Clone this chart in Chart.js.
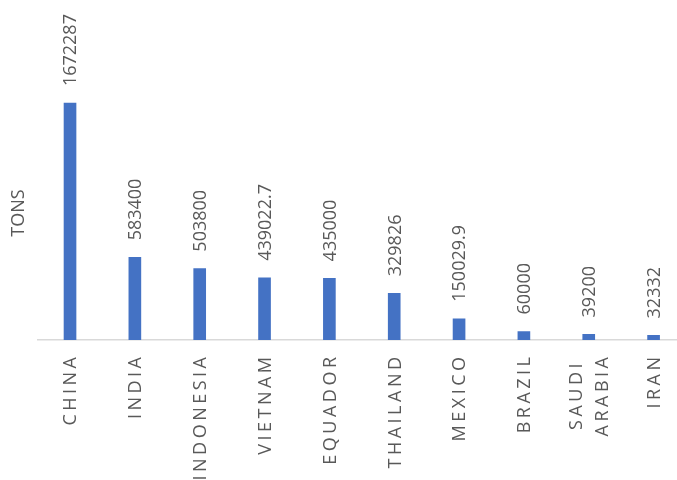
<!DOCTYPE html>
<html lang="en">
<head>
    <meta charset="UTF-8">
    <title>Production by country (tons)</title>
    <script src="https://cdn.jsdelivr.net/npm/chart.js"></script>
    <style>
        html, body { margin: 0; padding: 0; background: #fff; overflow: hidden; }
        .chart-wrap { position: absolute; left: 0; top: 0; width: 686px; height: 480px; }
    </style>
</head>
<body>
    <div class="chart-wrap">
        <canvas id="tonsChart"></canvas>
    </div>

    <script>
        // Countries (multi-line labels are arrays) and tonnage per country
        const countries = ['CHINA', 'INDIA', 'INDONESIA', 'VIETNAM', 'EQUADOR', 'THAILAND', 'MEXICO', 'BRAZIL', ['SAUDI', 'ARABIA'], 'IRAN'];
        const tons = [1672287, 583400, 503800, 439022.7, 435000, 329826, 150029.9, 60000, 39200, 32332];
        const axisTitle = 'TONS';

        const textGrey = '#595959';
        const fontFamily = '"Open Sans", "Liberation Sans", sans-serif';

        // Value labels above the bars, country names under the axis, axis title on the left
        const textPlugin = {
            id: 'textPlugin',
            afterDraw(chart) {
                const ctx = chart.ctx;
                const meta = chart.getDatasetMeta(0);
                const xScale = chart.scales.x;
                const size = 18;
                const capMid = size * 0.357;

                ctx.save();
                ctx.fillStyle = textGrey;
                ctx.font = size + 'px ' + fontFamily;

                // values, rotated, starting just above each bar
                meta.data.forEach((bar, i) => {
                    ctx.save();
                    ctx.translate(bar.x, bar.y - 17);
                    ctx.rotate(-Math.PI / 2);
                    ctx.textAlign = 'left';
                    ctx.textBaseline = 'alphabetic';
                    ctx.fillText(String(tons[i]), 0, capMid);
                    ctx.restore();
                });

                // category names, letter-spaced, end of the text hanging just below the axis
                const top = xScale.top + 17;
                const spacing = 3.5;
                const lineGap = 26;
                ctx.letterSpacing = spacing + 'px';
                countries.forEach((name, i) => {
                    const lines = Array.isArray(name) ? name : [name];
                    const cx = xScale.getPixelForValue(i);
                    const widths = lines.map(l => ctx.measureText(l).width - spacing);
                    const maxW = Math.max(...widths);
                    ctx.save();
                    ctx.translate(cx, top);
                    ctx.rotate(-Math.PI / 2);
                    ctx.textAlign = 'left';
                    ctx.textBaseline = 'alphabetic';
                    lines.forEach((line, k) => {
                        const off = (k - (lines.length - 1) / 2) * lineGap;
                        ctx.fillText(line, -maxW / 2 - widths[k] / 2, off + capMid);
                    });
                    ctx.restore();
                });
                ctx.letterSpacing = '0px';

                // y axis title
                ctx.save();
                ctx.translate(18, 213);
                ctx.rotate(-Math.PI / 2);
                ctx.textAlign = 'center';
                ctx.fillText(axisTitle, 0, capMid);
                ctx.restore();

                ctx.restore();
            }
        };

        const ctx = document.getElementById('tonsChart').getContext('2d');
        const tonsChart = new Chart(ctx, {
            type: 'bar',
            data: {
                labels: countries,
                datasets: [{
                    label: axisTitle,
                    data: tons,
                    backgroundColor: '#4472C4',
                    borderWidth: 0,
                    barThickness: 12
                }]
            },
            options: {
                responsive: true,
                maintainAspectRatio: false,
                animation: false,
                layout: {
                    padding: { left: 37.6, right: 0, top: 0, bottom: 140 }
                },
                plugins: {
                    legend: { display: false },
                    tooltip: { enabled: false }
                },
                scales: {
                    x: {
                        display: true,
                        grid: { display: false, drawTicks: false },
                        ticks: { display: false },
                        border: { display: true, color: '#D9D9D9', width: 1.5 }
                    },
                    y: {
                        display: false,
                        min: 0,
                        max: 2400000
                    }
                }
            },
            plugins: [textPlugin]
        });
    </script>
</body>
</html>
